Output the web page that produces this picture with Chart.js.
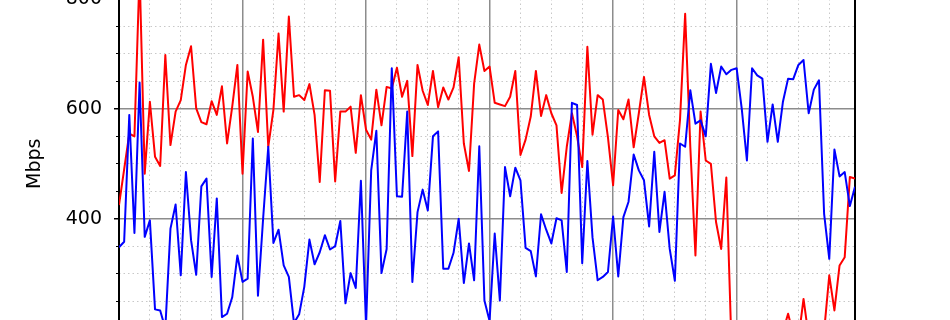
<!DOCTYPE html>
<html>
<head>
<meta charset="utf-8">
<script src="https://cdn.jsdelivr.net/npm/chart.js@4"></script>
<style>
  html, body { margin: 0; padding: 0; background: #fff; overflow: hidden; width: 950px; height: 320px; }
  #wrap { position: absolute; left: 0; top: -40px; width: 950px; height: 392px; }
</style>
</head>
<body>
<div id="wrap"><canvas id="grafico"></canvas></div>
<script>
// sample index (one point per interval on the x axis)
const amostras = Array.from({ length: 144 }, (_, i) => i);

// red series (Mbps)
const serieVermelha = [
  425, 490, 555, 550, 850, 482, 613, 513, 496, 698, 534, 595, 616, 680, 714, 601,
  576, 572, 614, 589, 641, 537, 604, 680, 482, 668, 622, 558, 726, 531, 598, 737,
  595, 768, 622, 625, 616, 645, 589, 467, 634, 633, 468, 595, 595, 604, 520, 625,
  562, 544, 635, 570, 640, 637, 675, 622, 651, 514, 680, 633, 607, 669, 603, 639,
  617, 639, 694, 537, 487, 646, 717, 669, 677, 611, 608, 605, 622, 669, 516, 544,
  586, 669, 587, 625, 592, 570, 447, 531, 592, 550, 494, 713, 553, 625, 617, 548,
  461, 598, 581, 617, 530, 592, 658, 589, 550, 538, 543, 473, 479, 580, 773, 531,
  333, 595, 506, 500, 394, 345, 475, 170, 160, 150, 165, 155, 170, 160, 175, 165,
  185, 195, 227, 190, 180, 254, 185, 170, 180, 195, 297, 233, 315, 330, 476, 473
];

// blue series (Mbps)
const serieAzul = [
  348, 358, 589, 374, 648, 367, 397, 235, 233, 200, 382, 426, 297, 485, 361, 298,
  459, 473, 294, 437, 221, 227, 257, 333, 285, 291, 546, 260, 400, 531, 356, 380,
  315, 294, 210, 226, 276, 362, 317, 339, 370, 344, 350, 396, 246, 301, 274, 469,
  205, 488, 560, 301, 345, 674, 441, 440, 595, 285, 412, 453, 415, 550, 559, 309,
  309, 338, 400, 283, 355, 288, 532, 251, 214, 373, 251, 494, 441, 493, 470, 347,
  341, 295, 408, 380, 355, 401, 397, 303, 611, 607, 319, 505, 366, 288, 294, 303,
  404, 295, 403, 431, 517, 488, 470, 386, 522, 376, 449, 345, 287, 537, 531, 634,
  573, 579, 550, 682, 629, 677, 663, 671, 674, 600, 506, 674, 661, 655, 540, 608,
  540, 613, 655, 654, 680, 689, 592, 635, 652, 409, 327, 526, 477, 485, 423, 458
];

const yTicks = [200, 400, 600, 800];
const fonte = { family: "'DejaVu Sans', sans-serif", size: 19 };

const corMajor = '#8c8c8c';
const corMinor = '#c8c8c8';
const xMax = amostras[amostras.length - 1];

function pontos(serie) {
  return serie.map((v, i) => ({ x: amostras[i], y: v }));
}

new Chart(document.getElementById('grafico').getContext('2d'), {
  type: 'line',
  data: {
    datasets: [
      {
        label: 'azul',
        data: pontos(serieAzul),
        borderColor: '#0000ff',
        borderWidth: 2,
        pointRadius: 0,
        tension: 0,
        borderJoinStyle: 'round',
        order: 0,
        xAxisID: 'x',
        yAxisID: 'y'
      },
      {
        label: 'vermelho',
        data: pontos(serieVermelha),
        borderColor: '#ff0000',
        borderWidth: 2,
        pointRadius: 0,
        tension: 0,
        borderJoinStyle: 'round',
        order: 1,
        xAxisID: 'x',
        yAxisID: 'y'
      }
    ]
  },
  options: {
    responsive: true,
    maintainAspectRatio: false,
    animation: false,
    layout: { padding: { left: 20, top: 39, right: 95, bottom: 12 } },
    plugins: { legend: { display: false }, tooltip: { enabled: false } },
    scales: {
      xMinor: {
        type: 'linear', position: 'bottom', min: 0, max: xMax, weight: 0,
        ticks: { display: false, stepSize: 6, includeBounds: false },
        grid: {
          drawTicks: false, lineWidth: 1,
          color: c => (c.tick && c.tick.value % 24 === 0) ? 'rgba(0,0,0,0)' : corMinor
        },
        border: { display: false, dash: [1.5, 3] },
        afterFit: s => { s.height = 0; }
      },
      x: {
        type: 'linear', position: 'bottom', min: 0, max: xMax, weight: 1,
        ticks: { display: false, stepSize: 24, includeBounds: false },
        grid: { drawTicks: false, color: corMajor, lineWidth: 1.5 },
        border: { display: false },
        afterFit: s => { s.height = 0; }
      },
      xTop: {
        type: 'linear', position: 'top', min: 0, max: xMax,
        ticks: { display: false },
        grid: { display: false },
        border: { display: true, color: '#000', width: 2 },
        afterFit: s => { s.height = 0; }
      },
      yMinor: {
        type: 'linear', position: 'left', min: yTicks[0], max: yTicks[yTicks.length - 1], weight: 0,
        ticks: { display: false, stepSize: 50, includeBounds: false },
        grid: {
          drawTicks: true, tickLength: 3, tickColor: '#000', tickWidth: 1, lineWidth: 1,
          color: c => (c.tick && c.tick.value % 200 === 0) ? 'rgba(0,0,0,0)' : corMinor
        },
        border: { display: false, dash: [1.5, 3] },
        afterFit: s => { s.width = 0; }
      },
      y: {
        type: 'linear', position: 'left', min: yTicks[0], max: yTicks[yTicks.length - 1], weight: 1,
        afterBuildTicks: s => { s.ticks = yTicks.map(v => ({ value: v })); },
        ticks: { font: fonte, color: '#000', padding: 12 },
        grid: { color: corMajor, lineWidth: 1.5, tickLength: 5, tickColor: '#000', tickWidth: 1.5 },
        border: { display: true, color: '#000', width: 2 },
        title: { display: true, text: 'Mbps', font: fonte, color: '#000' },
        afterFit: s => { s.width = 99; }
      },
      yRight: {
        type: 'linear', position: 'right', min: yTicks[0], max: yTicks[yTicks.length - 1],
        ticks: { display: false },
        grid: { display: false },
        border: { display: true, color: '#000', width: 2 },
        afterFit: s => { s.width = 0; }
      }
    }
  }
});
</script>
</body>
</html>
